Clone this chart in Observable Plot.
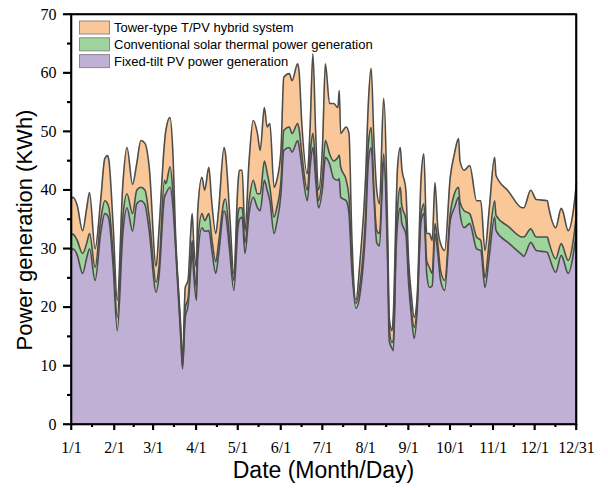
<!DOCTYPE html>
<html><head><meta charset="utf-8">
<script src="https://cdn.jsdelivr.net/npm/d3@7"></script>
<script src="https://cdn.jsdelivr.net/npm/@observablehq/plot@0.6"></script>
<style>body{margin:0;background:#fff;overflow:hidden}#wrap{position:relative;width:608px;height:488px}#overlay{position:absolute;left:0;top:0;pointer-events:none}</style>
</head><body><div id="wrap"><div id="chart"></div></div>
<script>
// Day of year (0 = 1/1, 364 = 12/31)
const days = [0,1,4,8,11,13,17,21,24,26,
27,30,33,37,40,44,47,50,53,56,
61,63,67,68,71,73,75,79,80,82,
84,86,87,88,90,91,94,96,99,101,
104,106,110,111,114,117,120,121,123,125,
128,131,134,136,139,141,143,146,148,151,
153,157,159,163,164,166,170,172,174,176,
178,181,183,186,189,192,193,194,198,200,
202,205,208,212,214,216,218,220,222,225,
228,229,231,232,234,235,237,238,241,243,
245,247,249,252,254,256,258,260,262,264,
266,269,273,276,279,280,283,287,292,295,
298,301,305,306,315,325,326,331,335,343,
344,349,353,354,358,362,364];
// Fixed-tilt PV power generation
const pv = [29.7,30,29,25.8,28.5,30,24.6,32.6,36,35.7,
35,27,16,32.6,37,33,37.7,38.2,37.5,33,
22.6,25.1,38.8,39.4,40.5,37.5,30.2,13.8,9.5,18.3,
20.3,26.8,29.7,26,21.2,28.5,33.6,33,33.1,30,
25.8,29,36.5,36,29.5,22.9,33.6,35,35.4,29.2,
36,38.8,37,36.5,41.7,40,38.2,32.6,34.5,39.4,
46.8,47.3,46.5,48.5,47.5,44,38.2,44,47.3,41.7,
37,40.5,45.6,44.5,42,41.7,42,38.8,38.2,36,
26.8,19.8,22.3,33.6,45,47.3,38.8,31,30.5,45,
25.8,14.3,13,12.6,30,34.3,37,34.5,32.5,24,
18.5,14.7,18.9,34.8,36,25.8,23.4,23.7,32.6,29.2,
24.6,22.9,34.8,37,38.8,36,33.6,34.3,30,29.7,
23.4,28.5,35.4,33.1,31,28.9,28.7,31.1,29.7,29.4,
28.8,26,28.9,28.5,25.8,29.5,33];
// Conventional solar thermal power generation
const csp = [2.6,2.5,2.5,3.4,2.5,2.6,2.2,2.2,2.2,2,
2,2,2.3,2.8,2.4,3,2.3,2.3,2.5,2.4,
1.7,1.7,2.9,1.7,3.5,2.5,0.8,0.7,0.3,1.7,
1.2,1.7,1.7,2,2.2,2.5,2.4,1.8,2.9,2,
2,2,1.7,2.5,1.9,1.7,2.4,2,1.6,1.8,
2.2,2.9,2.4,2.9,3.3,3,2.3,2.8,2.5,2.3,
3.4,3.5,3.2,2.9,3,2.2,1.8,2.2,2.4,2.3,
1.2,2.3,2.9,1.7,3,3.9,4,5.2,3.5,2.8,
1.2,0.9,1.7,2.4,3,3.4,1.2,2.1,2.1,1.2,
2.2,2.3,1,1.9,2,2.7,3.5,3,2.5,1.5,
1,1.9,1.1,1.2,1.7,2.2,3.4,2.1,1.7,1.7,
1.7,1.7,1.2,2.4,1.7,2,2.9,1.7,2,1.7,
1.7,2.5,2.8,2.6,2.8,3.1,3.3,2.3,2.3,2.6,
2.4,2.3,2,2,2.2,2.5,3];
// Tower-type T/PV hybrid system (additional)
const tower = [6.3,6.3,6,3.9,6,7,3.2,3.4,7.2,8.2,
8,5,2.9,5.6,7.9,5,4.5,8,8,8.6,
2.7,6.2,6.3,9.1,8.4,6.8,1.6,1,0.5,3.4,
3.1,4.5,4.6,3.4,3.4,5.5,6.2,5.2,7.9,6.2,
4.8,5.5,9.1,7.7,4.6,1.2,5.1,6.4,6.4,2,
6.8,10.2,10.3,7.4,9.1,7.8,10.9,5.1,4.7,5.1,
9.1,9.1,9,10.2,9.9,5.2,2.8,4.6,13.6,5.7,
1.8,5.2,13.1,8.6,9.8,8.5,11,5.7,9.1,10.9,
4.6,0.5,4,6.2,7,10.1,8.5,6.9,5.1,9.5,
3.4,1.7,2,4.4,5,6.9,6.8,6.5,5,2.5,
2.5,1.7,1.2,6.2,8.5,4.6,5.8,5.6,7,2.7,
4.6,5.1,6.2,6.8,8.3,7,6.9,8.2,6.2,6.8,
4.6,5.5,7.4,6.8,6,5,5,6.6,6.4,6.2,
5.8,5.3,6,6,5.1,5,5.3];

const seriesNames = ["Fixed-tilt PV power generation","Conventional solar thermal power generation","Tower-type T/PV hybrid system"];
const seriesColors = ["#c0b0d5","#9dd59c","#fac898"];
const monthTicks = [0,31,59,90,120,151,181,212,243,273,304,334,364];
const monthLabels = ["1/1","2/1","3/1","4/1","5/1","6/1","7/1","8/1","9/1","10/1","11/1","12/1","12/31"];
const minorXTicks = [15,45,74,105,135,166,196,227,258,288,319,349];
const yTicks = [0,10,20,30,40,50,60,70];
const yMinorTicks = [5,15,25,35,45,55,65];
const xTitle = "Date (Month/Day)";
const yTitle = "Power generation (KWh)";

const seriesValues = [pv, csp, tower];
const rows = [];
days.forEach((d, i) => {
  seriesNames.forEach((s, k) => rows.push({day: d, series: s, value: seriesValues[k][i]}));
});

const serifFont = "Liberation Serif, Times New Roman, serif";
const sansFont = "Liberation Sans, Arial, sans-serif";

const chartSvg = Plot.plot({
  width: 608, height: 488,
  marginLeft: 71, marginRight: 32, marginTop: 14, marginBottom: 64,
  style: {background: "#fff", color: "black"},
  x: {domain: [0, 364]},
  y: {domain: [0, 70]},
  color: {domain: seriesNames, range: seriesColors},
  marks: [
    Plot.areaY(rows, {x: "day", y: "value", z: "series", fill: "series", order: seriesNames, curve: "monotone-x"}),
    Plot.lineY(rows, Plot.stackY2({x: "day", y: "value", z: "series", order: seriesNames, curve: "monotone-x", stroke: "#4d4d4d", strokeWidth: 1.6})),
    Plot.frame({stroke: "black", strokeWidth: 1.6}),
    Plot.axisX({ticks: monthTicks, tickFormat: d => monthLabels[monthTicks.indexOf(d)], tickSize: 6, tickPadding: 11, stroke: "black", strokeWidth: 1.6, fontSize: 16, fontFamily: serifFont, label: null}),
    Plot.axisX({ticks: minorXTicks, tickFormat: () => "", tickSize: 3, stroke: "black", strokeWidth: 1.6, label: null}),
    Plot.axisY({ticks: yTicks, tickSize: 8, tickPadding: 7, stroke: "black", strokeWidth: 1.6, fontSize: 16, fontFamily: serifFont, label: null}),
    Plot.axisY({ticks: yMinorTicks, tickFormat: () => "", tickSize: 4, stroke: "black", strokeWidth: 1.6, label: null})
  ]
});
document.getElementById("chart").appendChild(chartSvg);

// Overlay: frame, ticks (positioned with Plot's own scales), titles and legend
const ov = d3.select("#wrap").append("svg").attr("id", "overlay")
  .attr("width", 608).attr("height", 488).attr("viewBox", "0 0 608 488");
try {
  const xs = chartSvg.scale("x"), ys = chartSvg.scale("y");
  const xl = xs.apply(0), xr = xs.apply(364), yb = ys.apply(0), yt = ys.apply(70);
  ov.append("rect").attr("x", xl).attr("y", yt).attr("width", xr - xl).attr("height", yb - yt)
    .attr("fill", "none").attr("stroke", "black").attr("stroke-width", 1.6);
  const tick = (x1, y1, x2, y2) => ov.append("line").attr("x1", x1).attr("y1", y1).attr("x2", x2).attr("y2", y2)
    .attr("stroke", "black").attr("stroke-width", 1.6);
  monthTicks.forEach(t => tick(xs.apply(t), yb, xs.apply(t), yb + 6));
  minorXTicks.forEach(t => tick(xs.apply(t), yb, xs.apply(t), yb + 3));
  yTicks.forEach(v => tick(xl - 8, ys.apply(v), xl, ys.apply(v)));
  yMinorTicks.forEach(v => tick(xl - 4, ys.apply(v), xl, ys.apply(v)));
} catch (e) {}
ov.append("text").attr("x", 323.5).attr("y", 478).attr("text-anchor", "middle")
  .attr("font-family", sansFont).attr("font-size", 23).attr("fill", "black").text(xTitle);
ov.append("text").attr("transform", "translate(32,230) rotate(-90)").attr("text-anchor", "middle")
  .attr("font-family", sansFont).attr("font-size", 22).attr("fill", "black").text(yTitle);
[2, 1, 0].forEach((k, r) => {
  const y0 = 21 + r * 16.8;
  ov.append("rect").attr("x", 79.5).attr("y", y0).attr("width", 30).attr("height", 13)
    .attr("fill", seriesColors[k]).attr("stroke", "#8a8a8a").attr("stroke-width", 1);
  ov.append("text").attr("x", 114).attr("y", y0 + 11).attr("text-anchor", "start")
    .attr("font-family", sansFont).attr("font-size", 13).attr("fill", "black").text(seriesNames[k]);
});
</script>
</body></html>
